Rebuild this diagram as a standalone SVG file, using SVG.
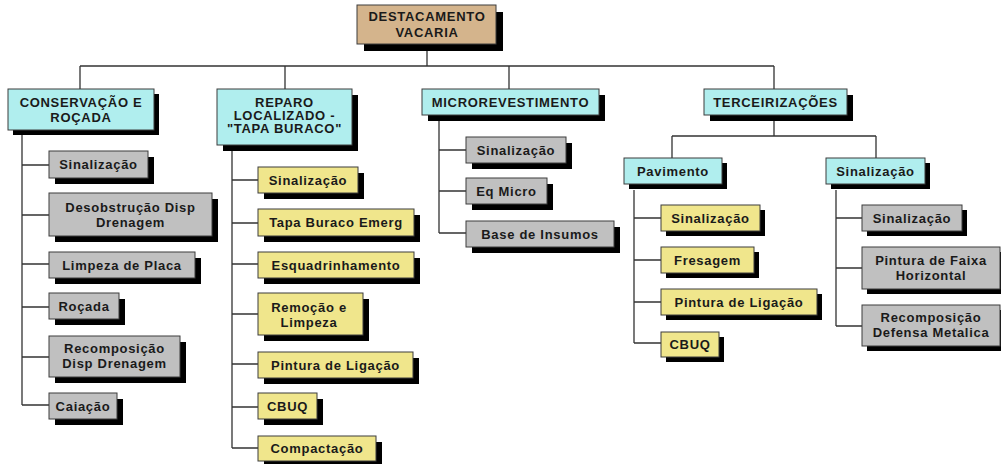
<svg xmlns="http://www.w3.org/2000/svg" width="1001" height="464" viewBox="0 0 1001 464">
<style>
.sh{fill:#000}
.b{stroke:#3c3c3c;stroke-width:1}
.tan{fill:#D4B48C}
.cy{fill:#B0EEEE}
.gr{fill:#C0C0C0}
.ye{fill:#F0E68C}
text{font-family:"Liberation Sans",Arial,sans-serif;font-weight:bold;font-size:13px;fill:#1a1a1a;text-anchor:middle;letter-spacing:0.7px}
.c{fill:none;stroke:#333;stroke-width:1.3}
</style>
<rect width="1001" height="464" fill="#fff"/>
<g id="connectors">
<path class="c" d="M427,51V66M80,66H774M80,66V89M285,66V89M509,66V89M774,66V89"/>
<path class="c" d="M22,134V405M22,165H49M22,215H49M22,264H49M22,307H49M22,357H49M22,405H49"/>
<path class="c" d="M232,151V448M232,180H258M232,223H258M232,264H258M232,314H258M232,364H258M232,407H258M232,448H258"/>
<path class="c" d="M439,121V233M439,150H466M439,191H466M439,233H466"/>
<path class="c" d="M774,121V136M672,136H876M672,136V158M876,136V158"/>
<path class="c" d="M634,190V343M634,218H661M634,260H661M634,302H661M634,343H661"/>
<path class="c" d="M836,190V326M836,218H862M836,268H862M836,326H862"/>
</g>
<g id="root"><rect class="sh" x="364" y="12" width="139" height="39"/><rect class="tan b" x="357" y="5" width="139" height="39"/><text x="427" y="20.5">DESTACAMENTO</text><text x="427" y="36.5">VACARIA</text></g>
<g id="conservacao"><rect class="sh" x="13" y="94" width="146" height="41"/><rect class="cy b" x="8" y="89" width="146" height="41"/><text x="81" y="106.5">CONSERVAÇÃO E</text><text x="81" y="121.5">ROÇADA</text></g>
<g id="c1"><rect class="sh" x="55" y="157" width="99" height="27"/><rect class="gr b" x="49" y="151" width="99" height="27"/><text x="98.5" y="169">Sinalização</text></g>
<g id="c2"><rect class="sh" x="55" y="199" width="163" height="43"/><rect class="gr b" x="49" y="193" width="163" height="43"/><text x="130.5" y="211.5">Desobstrução Disp</text><text x="130.5" y="226.5">Drenagem</text></g>
<g id="c3"><rect class="sh" x="55" y="258" width="146" height="26"/><rect class="gr b" x="49" y="252" width="146" height="26"/><text x="122" y="269.5">Limpeza de Placa</text></g>
<g id="c4"><rect class="sh" x="55" y="299" width="70" height="26"/><rect class="gr b" x="49" y="293" width="70" height="26"/><text x="84" y="310.5">Roçada</text></g>
<g id="c5"><rect class="sh" x="55" y="342" width="131" height="41"/><rect class="gr b" x="49" y="336" width="131" height="41"/><text x="114.5" y="352.5">Recomposição</text><text x="114.5" y="368">Disp Drenagem</text></g>
<g id="c6"><rect class="sh" x="55" y="399" width="68" height="26"/><rect class="gr b" x="49" y="393" width="68" height="26"/><text x="83" y="410.5">Caiação</text></g>
<g id="reparo"><rect class="sh" x="223" y="95" width="135" height="56"/><rect class="cy b" x="217" y="89" width="135" height="56"/><text x="284.5" y="106.5">REPARO</text><text x="284.5" y="119.5">LOCALIZADO -</text><text x="284.5" y="132.5">"TAPA BURACO"</text></g>
<g id="r1"><rect class="sh" x="264" y="173" width="100" height="26"/><rect class="ye b" x="258" y="167" width="100" height="26"/><text x="308" y="184.5">Sinalização</text></g>
<g id="r2"><rect class="sh" x="264" y="215" width="156" height="27"/><rect class="ye b" x="258" y="209" width="156" height="27"/><text x="336" y="227">Tapa Buraco Emerg</text></g>
<g id="r3"><rect class="sh" x="264" y="258" width="156" height="26"/><rect class="ye b" x="258" y="252" width="156" height="26"/><text x="336" y="269.5">Esquadrinhamento</text></g>
<g id="r4"><rect class="sh" x="264" y="299" width="105" height="42"/><rect class="ye b" x="258" y="293" width="105" height="42"/><text x="309" y="311.5">Remoção e</text><text x="309" y="326.5">Limpeza</text></g>
<g id="r5"><rect class="sh" x="264" y="358" width="155" height="26"/><rect class="ye b" x="258" y="352" width="155" height="26"/><text x="335.5" y="369.5">Pintura de Ligação</text></g>
<g id="r6"><rect class="sh" x="264" y="399" width="59" height="26"/><rect class="ye b" x="258" y="393" width="59" height="26"/><text x="287.5" y="410.5">CBUQ</text></g>
<g id="r7"><rect class="sh" x="264" y="442" width="118" height="25"/><rect class="ye b" x="258" y="436" width="118" height="25"/><text x="317" y="453">Compactação</text></g>
<g id="micro"><rect class="sh" x="428" y="95" width="177" height="26"/><rect class="cy b" x="422" y="89" width="177" height="26"/><text x="510.5" y="106.5">MICROREVESTIMENTO</text></g>
<g id="m1"><rect class="sh" x="472" y="143" width="100" height="26"/><rect class="gr b" x="466" y="137" width="100" height="26"/><text x="516" y="154.5">Sinalização</text></g>
<g id="m2"><rect class="sh" x="472" y="184" width="81" height="26"/><rect class="gr b" x="466" y="178" width="81" height="26"/><text x="506.5" y="195.5">Eq Micro</text></g>
<g id="m3"><rect class="sh" x="472" y="227" width="148" height="26"/><rect class="gr b" x="466" y="221" width="148" height="26"/><text x="540" y="238.5">Base de Insumos</text></g>
<g id="terc"><rect class="sh" x="710" y="95" width="143" height="26"/><rect class="cy b" x="704" y="89" width="143" height="26"/><text x="775.5" y="106.5">TERCEIRIZAÇÕES</text></g>
<g id="pav"><rect class="sh" x="629" y="163" width="98" height="26"/><rect class="cy b" x="624" y="158" width="98" height="26"/><text x="673" y="175.5">Pavimento</text></g>
<g id="p1"><rect class="sh" x="666" y="210" width="99" height="26"/><rect class="ye b" x="661" y="205" width="99" height="26"/><text x="710.5" y="222.5">Sinalização</text></g>
<g id="p2"><rect class="sh" x="666" y="252" width="93" height="26"/><rect class="ye b" x="661" y="247" width="93" height="26"/><text x="707.5" y="264.5">Fresagem</text></g>
<g id="p3"><rect class="sh" x="666" y="294" width="156" height="26"/><rect class="ye b" x="661" y="289" width="156" height="26"/><text x="739" y="306.5">Pintura de Ligação</text></g>
<g id="p4"><rect class="sh" x="666" y="337" width="58" height="25"/><rect class="ye b" x="661" y="332" width="58" height="25"/><text x="690" y="349">CBUQ</text></g>
<g id="sin"><rect class="sh" x="831" y="163" width="99" height="26"/><rect class="cy b" x="826" y="158" width="99" height="26"/><text x="875.5" y="175.5">Sinalização</text></g>
<g id="s1"><rect class="sh" x="867" y="210" width="100" height="26"/><rect class="gr b" x="862" y="205" width="100" height="26"/><text x="912" y="222.5">Sinalização</text></g>
<g id="s2"><rect class="sh" x="867" y="252" width="138" height="42"/><rect class="gr b" x="862" y="247" width="138" height="42"/><text x="931" y="264.5">Pintura de Faixa</text><text x="931" y="279.5">Horizontal</text></g>
<g id="s3"><rect class="sh" x="867" y="310" width="138" height="41"/><rect class="gr b" x="862" y="305" width="138" height="41"/><text x="931" y="321.5">Recomposição</text><text x="931" y="337">Defensa Metalica</text></g>
</svg>
